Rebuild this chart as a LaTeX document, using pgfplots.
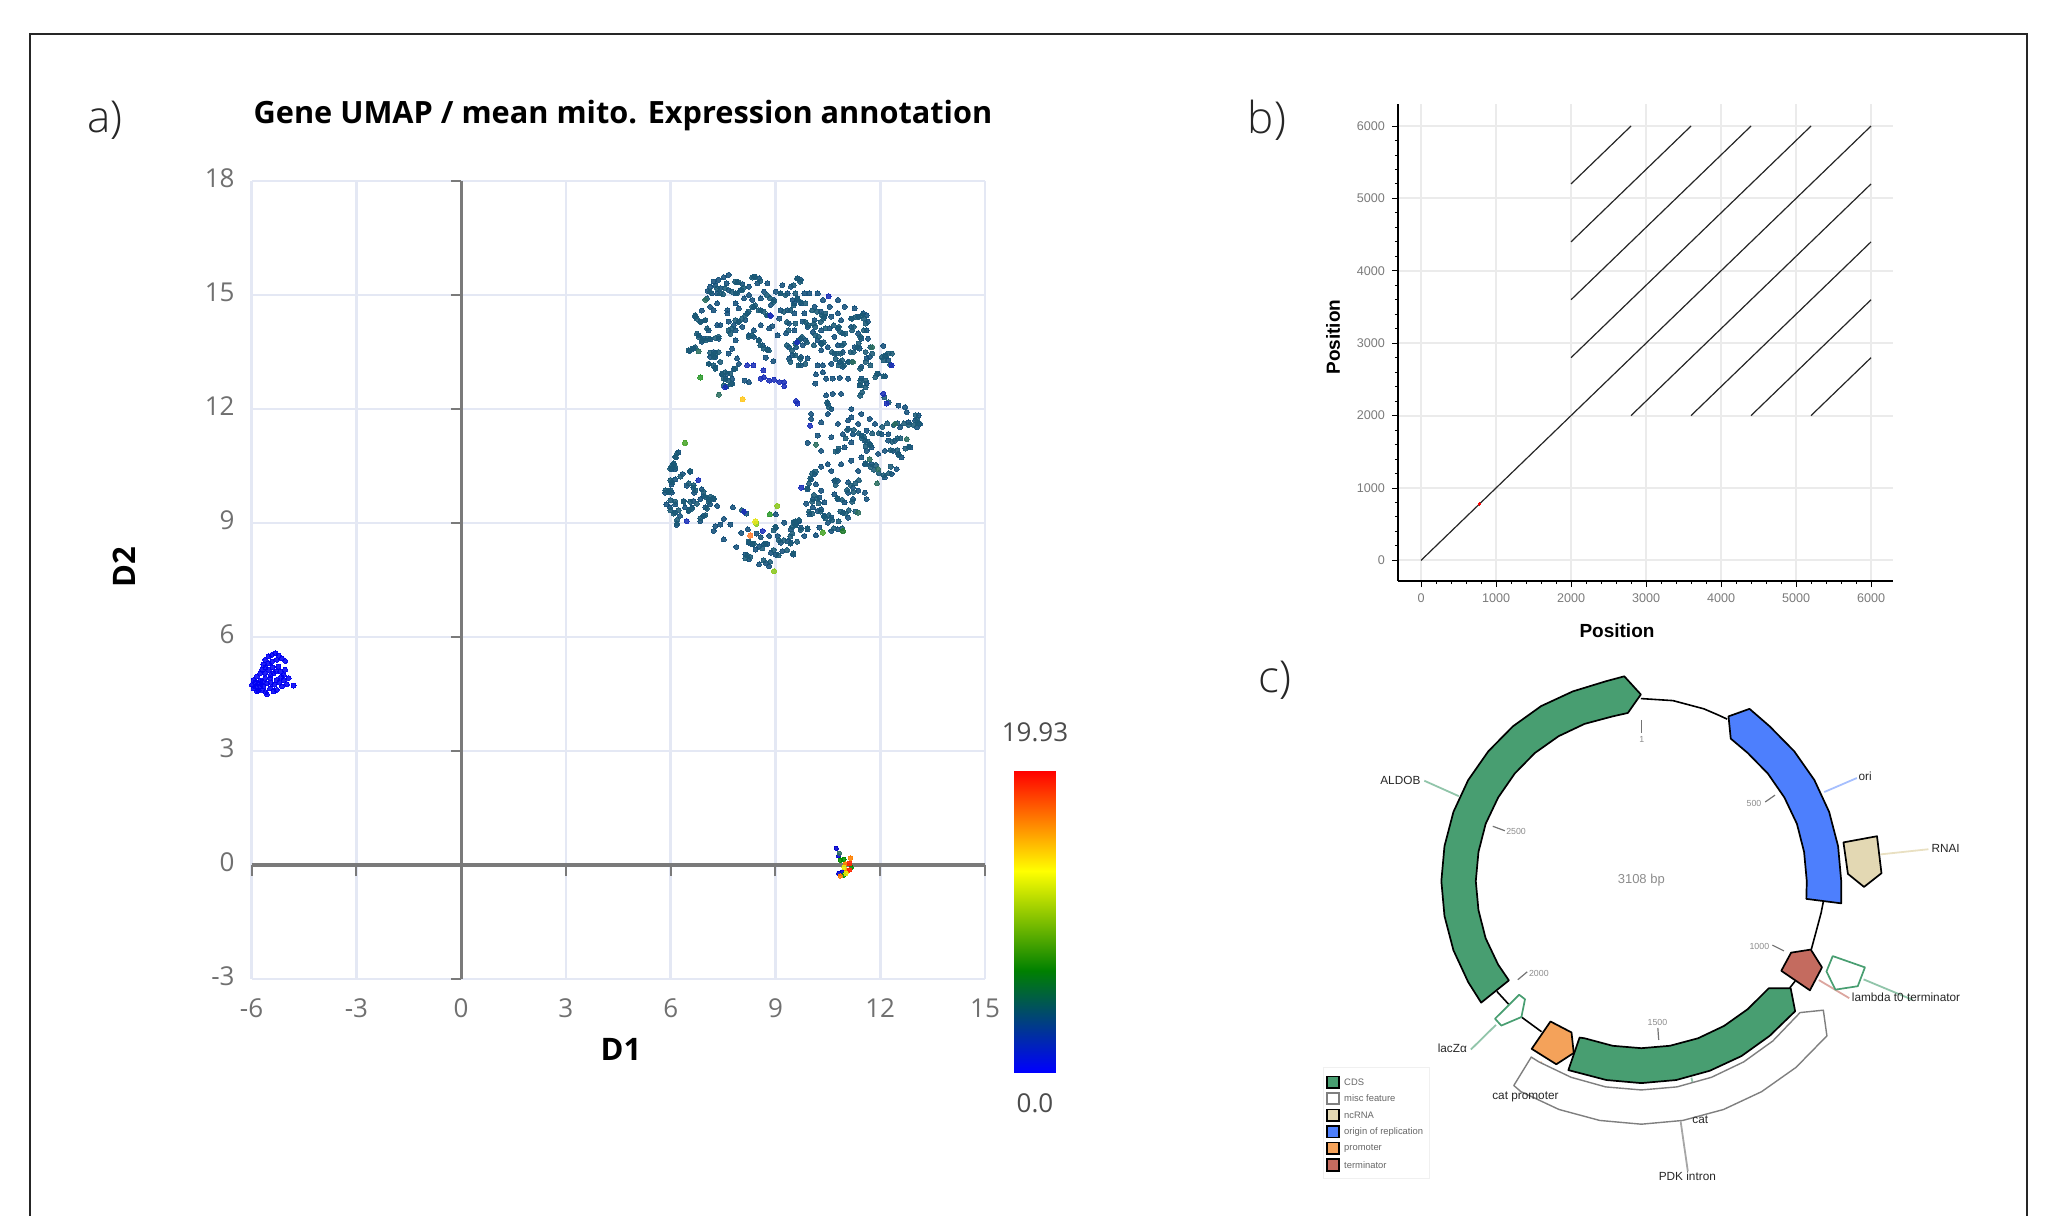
\documentclass[border=0pt]{standalone}
\usepackage{fontspec}
\usepackage{pgfplots}
\pgfplotsset{compat=1.18}
\setmainfont{Open Sans}
\newfontfamily\lib{Liberation Sans}
\newfontfamily\lgt{Open Sans Light}
\definecolor{gridA}{HTML}{E4E8F4}
\definecolor{zeroA}{HTML}{7A7A7A}
\definecolor{tickA}{HTML}{707070}
\definecolor{dotmain}{HTML}{14507A}
\definecolor{dotmix}{HTML}{1B5A76}
\definecolor{dotnavy}{HTML}{1A2FB8}
\definecolor{dotteal}{HTML}{2B6E60}
\definecolor{hgreen}{RGB}{46,154,46}
\definecolor{hamber}{RGB}{255,200,32}
\definecolor{hgrass}{RGB}{74,165,42}
\definecolor{hlime}{RGB}{140,200,32}
\definecolor{hyellow}{RGB}{230,230,30}
\definecolor{horange}{RGB}{255,128,48}
\definecolor{hdark}{RGB}{31,122,42}
\definecolor{cds}{HTML}{489E71}
\definecolor{ncr}{HTML}{E3D8B3}
\definecolor{ori}{HTML}{4D7FFD}
\definecolor{prm}{HTML}{F4A25A}
\definecolor{trm}{HTML}{C46B5F}
\definecolor{misc}{HTML}{7F7F7F}
\pgfplotsset{
  dot/.style n args={2}{only marks,mark=*,mark size=#2,mark options={draw=#1,fill=#1,line width=0pt,opacity=0.88}},
}
\begin{document}
\begin{tikzpicture}
\path[use as bounding box] (0,0) rectangle (1026pt,-608pt);
\begin{scope}[x=0.5pt,y=-0.5pt]
\draw[line width=0.7pt,color=black!85] (30,1216)--(30,34)--(2027,34)--(2027,1216);
\node[font=\lgt\fontsize{22}{24}\selectfont,color=black!85] at (105,120) {a)};
\node[font=\lgt\fontsize{22}{24}\selectfont,color=black!85] at (1267,120) {b)};
\node[font=\lgt\fontsize{22}{24}\selectfont,color=black!85] at (1275,680) {c)};
\node[font=\fontsize{15.35}{17}\selectfont\bfseries] at (623,116) {Gene UMAP / mean mito. Expression annotation};
\node[font=\fontsize{15.5}{17}\selectfont\bfseries] at (621,1049) {D1};
\node[font=\fontsize{15.5}{17}\selectfont\bfseries,rotate=90] at (124,567) {D2};
\node[font=\fontsize{13}{15}\selectfont,color=black!70] at (1035,732) {19.93};
\node[font=\fontsize{13}{15}\selectfont,color=black!70] at (1035,1103) {0.0};
\node[font=\lib\fontsize{9.5}{11}\selectfont\bfseries] at (1617,631) {Position};
\node[font=\lib\fontsize{9.5}{11}\selectfont\bfseries,rotate=90] at (1333,337) {Position};
\end{scope}

% ---------- panel a
\begin{axis}[
  at={(125.8pt,-489.5pt)},anchor=south west,scale only axis,width=366.7pt,height=399pt,
  xmin=-6,xmax=15,ymin=-3,ymax=18,clip=false,
  xtick={-6,-3,0,3,6,9,12,15},ytick={-3,0,3,6,9,12,15,18},
  grid=major,major grid style={color=gridA,line width=1.3pt},
  axis line style={draw=none},tick style={draw=none},
  /pgf/number format/assume math mode=true,
  ticklabel style={font=\fontsize{13}{15}\selectfont,color=tickA},
  xticklabel style={yshift=-6.5pt},
  yticklabel style={xshift=-5pt,yshift=1.5pt},
  unbounded coords=jump,
]
\addplot[color=zeroA,line width=1.6pt] coordinates {(-6,0)(15,0)};
\addplot[color=zeroA,line width=1.6pt] coordinates {(0,18)(0,-3)};
\addplot[color=zeroA,line width=1pt] coordinates {(-6,0)(-6,-0.28)(-6,nan)(-3,0)(-3,-0.28)(-3,nan)(3,0)(3,-0.28)(3,nan)(6,0)(6,-0.28)(6,nan)(9,0)(9,-0.28)(9,nan)(12,0)(12,-0.28)(12,nan)(15,0)(15,-0.28)};
\addplot[color=zeroA,line width=1pt] coordinates {(0,18)(-0.3,18)(0,nan)(0,15)(-0.3,15)(0,nan)(0,12)(-0.3,12)(0,nan)(0,9)(-0.3,9)(0,nan)(0,6)(-0.3,6)(0,nan)(0,3)(-0.3,3)(0,nan)(0,-3)(-0.3,-3)};
% main cluster
\addplot[dot={dotmain}{1.25pt}] coordinates {
(7.66,15.53)(7.52,15.47)(7.37,15.40)(7.23,15.35)(7.13,15.22)(7.06,15.11)(7.28,15.26)(7.42,15.18)(7.33,15.04)(7.18,15.04)
(7.90,15.33)(8.05,15.29)(8.38,15.48)(8.53,15.44)(8.24,15.22)(8.00,15.13)(8.24,15.00)(8.48,15.31)(8.77,15.31)(8.67,15.09)
(8.58,14.91)(8.34,14.87)(8.10,14.91)(7.86,15.04)(7.66,15.13)(7.60,15.31)(7.13,14.69)(7.33,14.78)(6.89,14.59)(6.70,14.43)
(6.85,14.30)(6.99,14.34)(7.09,14.07)(6.80,13.94)(6.94,13.85)(7.13,13.83)(7.37,13.85)(6.89,13.77)(6.65,13.59)(6.54,13.53)
(7.23,14.60)(7.62,14.60)(7.86,14.78)(7.95,14.65)(8.19,14.52)(8.38,14.69)(8.58,14.60)(8.77,14.47)(8.14,14.34)(7.95,14.30)
(7.81,14.21)(7.62,14.52)(7.66,14.30)(7.42,14.21)(7.33,14.21)(7.86,14.07)(8.05,14.16)(8.38,14.07)(8.58,14.21)(8.82,14.12)
(8.91,14.18)(8.24,13.94)(8.38,13.90)(8.53,13.81)(8.63,13.68)(8.77,13.57)(7.86,13.81)(7.76,13.59)(7.66,13.46)(7.23,13.50)
(7.13,13.37)(7.28,13.37)(7.09,13.19)(7.28,13.09)(7.81,13.06)(7.95,13.19)(7.90,13.33)(8.72,13.35)(8.94,13.26)(7.62,12.93)
(7.47,12.91)(7.57,12.80)(7.76,12.80)(7.60,12.59)(7.76,12.67)(8.12,12.75)(8.24,12.71)
(9.20,15.26)(9.44,15.22)(9.63,15.44)(9.73,15.40)(9.01,15.09)(9.15,15.04)(9.35,15.04)(9.49,14.87)(9.63,14.91)(9.83,15.04)
(9.97,15.04)(10.21,15.04)(10.36,14.87)(10.79,14.87)(9.73,14.78)(9.54,14.78)(8.96,14.87)(8.87,14.74)(9.15,14.60)(9.35,14.60)
(9.54,14.52)(9.83,14.52)(10.12,14.69)(10.31,14.56)(10.55,14.69)(10.79,14.52)(10.98,14.69)(11.27,14.65)(11.51,14.52)(11.61,14.47)
(11.37,14.43)(11.17,14.38)(10.88,14.34)(10.60,14.43)(10.40,14.43)(10.12,14.34)(9.92,14.16)(9.78,14.30)(9.39,14.25)(9.11,14.38)
(9.06,13.94)(9.30,13.99)(9.54,14.07)(9.73,13.85)(9.87,13.81)(10.07,14.03)(10.31,14.07)(10.55,14.12)(10.79,14.12)(10.69,13.90)
(10.93,13.99)(11.17,14.16)(11.37,13.99)(11.65,14.30)(11.61,14.07)(11.46,13.85)(11.27,13.63)(11.41,13.59)(11.65,13.85)(12.09,13.66)
(10.31,13.72)(10.50,13.63)(10.21,13.81)(10.79,13.68)(10.93,13.50)(10.69,13.46)(10.31,13.55)(9.78,13.68)(9.59,13.63)(9.39,13.63)
(9.49,13.41)(9.73,13.37)(9.92,13.33)(9.39,13.33)(9.73,13.15)(10.21,13.15)(10.36,13.15)(10.60,13.19)(10.84,13.24)(11.08,13.24)
(10.93,13.11)(11.46,13.11)(11.61,13.33)(11.70,13.37)(12.14,13.39)(12.23,13.28)(11.94,12.93)(12.14,12.86)(10.36,12.97)(10.16,12.91)
(10.45,12.80)(10.64,12.80)(10.84,12.82)(11.08,12.80)(11.46,12.80)(11.41,12.62)(11.61,12.67)(10.14,12.67)
(12.52,12.09)(12.71,12.05)(12.76,11.92)(13.10,11.83)(13.00,11.70)(13.14,11.61)(13.05,11.52)(12.81,11.65)(12.57,11.52)(12.23,11.34)
(12.04,11.34)(11.85,11.61)(11.70,11.74)(11.46,11.87)(11.17,12.00)(10.88,12.40)(10.64,12.40)(10.45,12.36)(10.50,12.14)(10.60,12.00)
(11.17,11.78)(11.08,11.70)(11.37,11.61)(11.61,11.43)(11.46,11.30)(11.22,11.34)(11.08,11.48)(10.93,11.34)(10.79,11.61)(10.50,11.87)
(10.31,11.65)(10.02,11.87)(10.02,11.74)(10.21,11.30)(9.92,11.11)(10.60,11.26)(10.31,10.90)(10.79,10.90)(10.98,10.99)(11.17,11.12)
(11.56,11.17)(11.70,11.08)(11.75,10.99)(11.61,10.90)(11.46,10.73)(11.94,10.82)(12.13,10.90)(12.37,10.90)(12.52,10.82)(12.86,10.99)
(12.42,11.17)(12.23,11.17)(12.61,10.73)(12.47,10.42)(12.33,10.29)(12.13,10.20)(11.75,10.55)(11.56,10.55)(11.37,10.37)(11.17,10.64)
(10.88,10.55)(10.50,10.55)(10.31,10.48)(10.60,10.37)(10.79,10.11)
(10.12,10.29)(10.02,10.15)(10.16,10.02)(9.92,9.89)(10.31,9.85)(10.69,10.11)(11.08,10.07)(11.22,9.93)(11.37,9.85)(11.08,9.80)
(11.56,9.80)(11.61,9.63)(10.69,9.76)(10.40,9.54)(10.79,9.63)(10.26,9.67)(10.07,9.63)(9.88,9.51)(10.98,9.54)(11.22,9.63)
(10.07,9.41)(9.97,9.23)(10.21,9.32)(10.40,9.19)(10.60,9.14)(10.93,9.27)(11.08,9.14)(10.31,9.36)(10.50,9.01)(10.26,8.88)
(10.60,8.79)(10.79,8.83)(10.16,8.68)(9.92,8.83)(9.68,9.05)(9.54,9.01)(9.73,8.88)(9.83,8.66)
(7.78,9.41)(8.17,9.25)(7.52,9.11)(7.28,8.92)(7.42,8.96)(7.23,8.79)(7.71,8.96)(7.52,8.57)(8.02,8.74)(8.21,8.83)
(9.01,9.23)(8.46,8.72)(8.58,8.63)(9.01,8.88)(8.82,8.66)(9.06,8.66)(9.25,9.01)(9.35,8.52)(9.15,8.48)(9.44,8.48)
(9.51,8.17)(9.20,8.26)(9.01,8.17)(8.87,8.22)(8.67,8.44)(8.53,8.39)(8.34,8.44)(8.24,8.48)(8.14,8.17)(8.24,8.04)
(7.88,8.37)(8.53,7.91)(8.72,7.95)(8.82,7.86)(8.43,8.30)(8.77,8.45)(9.59,8.97)(9.44,8.83)
(6.22,10.86)(6.15,10.73)(6.08,10.55)(6.03,10.42)(6.13,10.42)(6.34,10.29)(6.56,10.35)(6.13,10.15)(6.03,10.02)(5.84,9.80)
(5.93,9.85)(6.03,9.80)(6.46,9.98)(6.65,9.93)(6.67,9.80)(6.89,9.89)(6.94,9.71)(7.09,9.63)(7.23,9.63)(7.13,9.49)
(7.33,9.45)(6.99,9.41)(6.85,9.63)(6.65,9.58)(6.61,9.41)(6.51,9.32)(6.85,9.05)(6.94,9.19)(6.17,8.95)(6.27,9.19)
(6.13,9.27)(5.98,9.41)(5.88,9.49)(6.13,9.49)(6.37,9.58)(6.41,9.41)
};
\addplot[dot={dotmix}{1.25pt}] coordinates {
(7.33,15.18)(7.42,15.04)(7.50,15.02)(7.56,15.18)(7.13,15.09)(7.04,14.91)(7.75,15.09)(7.90,15.04)(8.04,15.13)(8.09,15.19)
(8.33,15.46)(8.42,15.48)(8.57,15.37)(7.95,15.33)(7.85,15.35)(7.85,14.34)(7.95,14.29)(8.04,14.38)(8.14,14.47)(8.23,14.56)
(8.33,14.69)(8.42,14.73)(8.52,14.60)(8.66,14.56)(8.76,14.47)(7.75,14.12)(7.66,14.07)(7.71,13.98)(8.23,13.90)(8.33,13.94)
(8.52,13.81)(8.57,13.68)(8.66,13.59)(8.81,13.54)(6.75,13.98)(6.80,13.90)(6.90,13.81)(6.99,13.81)(7.09,13.85)(7.28,13.87)
(7.37,13.90)(6.85,14.29)(6.75,14.38)(6.70,14.47)(6.99,14.34)(7.04,14.12)(6.51,13.54)(6.61,13.59)(6.70,13.63)(7.13,13.48)
(7.23,13.37)(7.28,13.46)(7.37,13.50)(7.09,13.19)(7.23,13.15)(7.28,13.06)(7.42,13.24)(7.47,12.93)(7.56,12.97)(7.71,12.93)
(7.85,13.06)(7.52,12.80)(7.66,12.75)(7.52,12.62)(7.75,12.66)(9.52,15.26)(9.62,15.44)(9.71,15.35)(9.57,15.04)(9.62,14.91)
(9.71,14.82)(9.52,14.73)(9.86,14.78)(9.43,14.60)(9.24,14.56)(9.33,14.29)(9.57,14.25)(9.86,14.29)(9.95,14.20)(9.38,14.07)
(9.66,13.81)(9.76,13.90)(9.90,13.76)(9.57,13.72)(9.33,13.68)(9.47,13.54)(9.57,13.41)(9.71,13.32)(9.86,13.19)(9.66,13.15)
(9.43,13.24)(8.76,15.00)(8.85,14.91)(8.95,14.82)(9.14,15.04)(9.28,15.00)
(10.33,14.47)(10.43,14.51)(10.38,14.38)(10.29,14.29)(10.14,14.16)(10.10,14.25)(10.05,14.60)(10.19,14.56)(10.14,13.94)(10.24,13.90)
(10.43,14.12)(10.67,14.20)(10.81,14.16)(10.86,14.03)(11.00,13.98)(11.19,14.07)(11.24,14.16)(11.29,14.42)(11.38,14.42)(11.48,14.47)
(11.53,14.38)(11.19,14.38)(11.58,14.25)(11.53,14.07)(10.96,13.72)(10.91,13.68)(10.38,13.76)(10.33,13.72)(10.10,13.68)(10.62,13.50)
(10.76,13.46)(10.86,13.46)(10.72,13.32)(10.91,13.28)(10.81,13.15)(10.96,13.15)(11.10,13.24)(11.19,13.24)(11.43,13.90)(11.38,13.72)
(11.34,13.63)(11.24,13.50)(11.15,13.50)(11.72,13.63)(11.58,13.50)(11.77,13.46)(11.58,13.24)(11.43,13.06)(11.72,13.15)(12.05,13.37)
(12.15,13.41)(12.24,13.46)(12.34,13.46)(12.10,13.28)(12.29,13.16)(11.91,12.93)(11.86,12.84)(12.10,12.86)(11.43,12.75)(11.58,12.75)
(11.43,12.62)(11.58,12.57)(11.48,12.44)(11.43,12.35)(12.12,12.31)(12.24,12.18)(10.48,12.18)(10.53,12.05)
(13.01,11.84)(13.06,11.71)(13.11,11.62)(12.96,11.58)(12.82,11.58)(12.68,11.62)(12.49,11.62)(12.39,11.58)(12.20,11.62)(12.06,11.53)
(11.96,11.36)(11.77,11.36)(11.53,11.27)(11.48,11.23)(11.63,11.14)(11.58,11.01)(11.72,11.05)(11.39,11.36)(11.24,11.45)(11.05,11.45)
(10.81,10.96)(10.72,10.88)(11.01,11.23)(12.82,11.01)(12.72,10.96)(12.49,10.92)(12.53,10.79)(12.30,10.92)(12.30,10.48)(12.25,10.31)
(12.10,10.26)(11.96,10.31)(11.82,10.40)(11.72,10.48)(11.58,10.57)(11.87,10.53)(12.49,11.23)(12.58,11.23)(12.34,11.14)(10.05,10.31)
(10.15,10.35)(10.00,10.18)(9.96,10.04)(9.91,9.91)(10.10,9.74)(10.19,9.65)(10.05,9.56)(10.24,9.52)(10.29,9.30)(10.39,9.17)
(9.96,9.30)(10.05,9.25)(10.43,9.12)(10.53,9.21)(10.62,9.08)(10.67,8.86)(10.81,9.04)(10.91,8.86)(10.86,9.30)(11.01,9.25)
(11.10,9.34)(11.29,9.30)(11.20,9.56)(11.05,9.87)(11.15,10.00)(11.24,9.82)(11.39,10.13)(11.29,10.04)(10.72,10.13)(10.72,10.00)
(10.77,9.65)(10.91,9.61)(9.57,9.04)(9.67,9.08)(9.48,8.90)(9.72,8.82)(9.91,8.86)(9.43,8.64)(9.51,8.20)(9.62,8.51)
(6.18,10.83)(6.13,10.74)(6.04,10.52)(6.13,10.48)(5.99,10.43)(6.09,10.57)(6.56,10.37)(6.28,10.22)(5.99,10.13)(6.04,10.08)
(6.52,10.04)(6.66,10.00)(5.85,9.86)(5.94,9.82)(5.99,9.86)(6.71,9.86)(6.94,9.82)(6.99,9.69)(7.14,9.69)(7.23,9.65)
(7.09,9.56)(5.99,9.60)(6.13,9.56)(6.37,9.56)(6.56,9.56)(6.75,9.51)(5.99,9.34)(6.09,9.25)(6.23,9.34)(6.52,9.34)
(6.61,9.38)(6.18,9.08)(6.18,8.99)(6.85,9.12)(6.99,9.21)(7.04,9.38)(8.04,9.34)(8.14,8.07)(8.19,8.15)(8.28,8.11)
(8.23,8.51)(8.38,8.46)(8.62,8.33)(8.71,8.46)(9.00,8.90)(8.95,8.81)(9.09,8.55)(9.24,8.55)(9.43,8.46)(9.33,8.29)
(9.09,8.15)(8.85,7.98)(8.66,8.02)(9.52,9.03)(9.57,8.94)(9.48,8.72)(8.95,8.29)
};
\addplot[dot={dotnavy}{1.25pt}] coordinates {
(8.19,13.15)(8.37,13.15)(8.65,13.02)(8.67,12.84)(8.58,12.80)(8.82,12.75)(8.96,12.77)(9.11,12.71)(9.25,12.71)(9.25,12.60)
(9.59,12.21)(9.63,12.14)(9.74,9.93)(6.79,10.13)(8.10,9.30)(8.63,8.79)(6.46,9.05)(8.87,14.45)(10.52,14.97)(9.99,11.56)
(12.09,12.40)(12.18,12.14)(12.33,13.15)(8.85,14.47)(7.56,12.57)(9.62,13.76)
};
\addplot[dot={dotteal}{1.25pt}] coordinates {
(6.99,14.87)(6.80,13.52)(7.38,12.38)(11.91,10.04)(12.42,11.61)(12.76,11.21)(11.70,10.68)(11.94,10.42)(11.77,13.63)(10.16,11.06)(11.37,9.27)(11.22,13.24)
};
% highlighted genes
\addplot[dot={hgreen}{1.3pt}] coordinates {(6.85,12.83)(8.84,9.23)};
\addplot[dot={hamber}{1.3pt}] coordinates {(8.06,12.26)};
\addplot[dot={hgrass}{1.3pt}] coordinates {(6.41,11.11)(10.36,8.75)};
\addplot[dot={hlime}{1.3pt}] coordinates {(9.05,9.45)(8.45,8.98)(8.96,7.73)};
\addplot[dot={hyellow}{1.3pt}] coordinates {(8.42,9.04)};
\addplot[dot={horange}{1.3pt}] coordinates {(8.28,8.67)};
\addplot[dot={hdark}{1.3pt}] coordinates {(10.93,8.79)};
% blue cluster
\addplot[dot={blue!95!black}{1.25pt}] coordinates {
(-5.32,5.57)(-5.42,5.53)(-5.51,5.49)(-5.61,5.40)(-5.23,5.51)(-5.13,5.44)(-5.04,5.37)(-5.28,5.40)(-5.42,5.35)(-5.51,5.31)
(-5.66,5.27)(-5.70,5.14)(-5.75,5.05)(-5.85,4.96)(-5.94,4.87)(-5.99,4.74)(-5.94,4.65)(-5.85,4.57)(-5.70,4.61)(-5.56,4.49)
(-5.47,4.65)(-5.37,4.57)(-5.28,4.61)(-5.13,4.70)(-4.99,4.76)(-4.80,4.72)(-4.94,4.92)(-5.08,4.87)(-5.28,4.87)(-5.47,4.92)
(-5.61,4.92)(-5.70,4.83)(-5.80,4.78)(-5.56,4.78)(-5.37,5.05)(-5.18,5.09)(-5.04,5.14)(-5.23,5.22)(-5.51,5.14)(-5.61,5.05)
(-5.08,5.00)(-5.89,4.70)(-5.75,4.70)(-5.66,4.70)(-5.40,5.20)(-5.30,5.10)(-5.60,5.20)(-5.15,4.95)(-5.45,5.00)(-5.75,4.85)
(-5.35,4.75)(-5.20,4.80)(-5.90,4.80)(-5.80,4.60)(-5.60,4.55)(-5.45,4.80)
};
% small cluster
\addplot[dot={blue!80!black}{1.1pt}] coordinates {(10.74,0.44)(10.81,0.24)(10.81,-0.22)(10.91,-0.18)};
\addplot[dot={dotteal}{1.1pt}] coordinates {(10.83,0.31)};
\addplot[dot={green!55!black}{1.1pt}] coordinates {(10.86,0.13)(10.96,0.15)(11.17,-0.06)(10.96,-0.26)};
\addplot[dot={orange}{1.1pt}] coordinates {(11.15,0.18)(11.0,0.03)(11.05,-0.15)(10.86,-0.29)};
\addplot[dot={red!85!yellow}{1.1pt}] coordinates {(11.12,0.04)(11.12,-0.13)};
\addplot[dot={yellow!90!green}{1.1pt}] coordinates {(10.96,-0.06)(11.02,-0.22)};
\end{axis}

% ---------- colour bar
\begin{axis}[
  at={(507pt,-536pt)},anchor=south west,scale only axis,width=21pt,height=150.5pt,
  hide axis,xmin=0,xmax=1,ymin=0,ymax=1,view={0}{90},
  colormap={umap}{rgb255(0cm)=(0,0,255); rgb255(0.337cm)=(0,128,0); rgb255(0.668cm)=(255,255,0); rgb255(1cm)=(255,0,0)},
  point meta min=0,point meta max=1,
]
\addplot3[surf,shader=interp,point meta=z,mesh/rows=2] coordinates {(0,0,0)(1,0,0)(0,1,1)(1,1,1)};
\end{axis}

% ---------- panel b
\begin{axis}[
  at={(699pt,-290.5pt)},anchor=south west,scale only axis,width=247.5pt,height=238.6pt,
  xmin=-307,xmax=6293,ymin=-285,ymax=6307,
  axis lines*=left,axis line style={line width=0.6pt,black,-},
  xtick={0,1000,2000,3000,4000,5000,6000},ytick={0,1000,2000,3000,4000,5000,6000},
  minor tick num=4,tick align=outside,
  major tick length=3pt,minor tick length=1.6pt,
  tick style={black,line width=0.45pt},
  grid=major,major grid style={color=black!8,line width=1pt},
  /pgf/number format/assume math mode=true,
  /pgf/number format/1000 sep={},
  ticklabel style={font=\lib\fontsize{6.3}{8}\selectfont,color=black!52},
  scaled ticks=false,
]
\addplot[black!85,line width=0.6pt] coordinates {(0,0)(6000,6000)};
\addplot[black!85,line width=0.6pt] coordinates {(2000,5200)(2800,6000)};
\addplot[black!85,line width=0.6pt] coordinates {(2000,4400)(3600,6000)};
\addplot[black!85,line width=0.6pt] coordinates {(2000,3600)(4400,6000)};
\addplot[black!85,line width=0.6pt] coordinates {(2000,2800)(5200,6000)};
\addplot[black!85,line width=0.6pt] coordinates {(2800,2000)(6000,5200)};
\addplot[black!85,line width=0.6pt] coordinates {(3600,2000)(6000,4400)};
\addplot[black!85,line width=0.6pt] coordinates {(4400,2000)(6000,3600)};
\addplot[black!85,line width=0.6pt] coordinates {(5200,2000)(6000,2800)};
\addplot[dot={red}{0.7pt}] coordinates {(780,780)};
\end{axis}

% ---------- panel c (plasmid map; coordinates)
\begin{axis}[
  at={(650pt,-331.3pt)},anchor=north west,scale only axis,width=350pt,height=270pt,
  xmin=0,xmax=1565,ymin=0,ymax=1577,y dir=reverse,hide axis,clip=false,
]
% backbone
\addplot[black,line width=0.8pt] coordinates {(762,105)(834,111)(903,135)(935,153)(955,165)};
\addplot[black,line width=0.8pt] coordinates {(1170,698)(1165,731)(1155,780)(1143,838)};
\addplot[black,line width=0.8pt] coordinates {(1107,930)(1095,950)};
\addplot[black,line width=0.8pt] coordinates {(440,960)(468,1000)};
\addplot[black,line width=0.8pt] coordinates {(495,1035)(540,1078)};
% leaders
\addplot[cds!60,line width=0.9pt] coordinates {(278,345)(355,390)};
\addplot[ori!50,line width=0.9pt] coordinates {(1172,378)(1245,337)};
\addplot[ncr!80,line width=0.9pt] coordinates {(1298,560)(1405,545)};
\addplot[cds!60,line width=0.9pt] coordinates {(1260,925)(1370,985)};
\addplot[trm!60,line width=0.9pt] coordinates {(1160,927)(1228,980)};
\addplot[cds!60,line width=0.9pt] coordinates {(875,1212)(895,1320)};
\addplot[prm!60,line width=0.9pt] coordinates {(540,1165)(503,1255)};
\addplot[black!35,line width=0.9pt] coordinates {(851,1340)(867,1485)};
\addplot[cds!60,line width=0.9pt] coordinates {(438,1058)(382,1130)};
% PDK intron
\addplot[fill=white,draw=misc,line width=0.7pt,line join=round] coordinates {
(1118,1022)(1170,1015)(1178,1090)(1109,1182)(1032,1253)(947,1305)(856,1337)(763,1348)(670,1337)(579,1305)(494,1253)(478,1235)
(517,1152)(534,1166)(606,1211)(683,1239)(763,1248)(843,1239)(920,1211)(992,1166)(1057,1105)} -- cycle;
% ALDOB
\addplot[fill=cds,draw=black,line width=0.85pt,line join=round] coordinates {
(405,993)(376,933)(343,840)(323,740)(316,638)(323,536)(343,436)(376,343)(421,259)(476,186)(539,127)(610,84)(685,54)(725,40)
(762,93)(733,147)(699,157)(636,179)(578,215)(525,264)(480,324)(443,394)(415,471)(399,553)(393,638)(399,723)(415,805)(443,882)(467,928)} -- cycle;
% cat
\addplot[fill=cds,draw=black,line width=0.85pt,line join=round] coordinates {
(1048,951)(1097,951)(1107,1018)(1050,1090)(987,1149)(916,1192)(841,1219)(763,1228)(685,1219)(600,1190)
(625,1095)(636,1097)(699,1119)(763,1126)(827,1119)(890,1097)(948,1061)(1001,1012)} -- cycle;
% ori
\addplot[fill=ori,draw=black,line width=0.85pt,line join=round] coordinates {
(958,157)(1005,135)(1050,186)(1105,259)(1150,343)(1183,436)(1203,536)(1210,638)(1210,703)
(1132,690)(1133,638)(1127,553)(1111,471)(1083,394)(1046,324)(1001,264)(963,222)} -- cycle;
% RNAI
\addplot[fill=ncr,draw=black,line width=0.85pt,line join=round] coordinates {(1215,525)(1290,507)(1300,615)(1261,655)(1225,617)} -- cycle;
% lambda t0 terminator
\addplot[fill=trm,draw=black,line width=0.85pt,line join=round] coordinates {(1098,847)(1142,838)(1167,890)(1140,957)(1076,900)} -- cycle;
% open feature
\addplot[fill=white,draw=cds,line width=0.85pt,line join=round] coordinates {(1191,857)(1263,890)(1247,945)(1197,955)(1177,902)} -- cycle;
% lacZ alpha
\addplot[fill=white,draw=cds,line width=0.85pt,line join=round] coordinates {(490,970)(503,983)(495,1035)(450,1060)(436,1040)} -- cycle;
% cat promoter
\addplot[fill=prm,draw=black,line width=0.85pt,line join=round] coordinates {(560,1048)(607,1080)(612,1140)(573,1173)(518,1128)} -- cycle;
% position ticks
\addplot[black!55,line width=0.6pt] coordinates {(764,167)(764,205)};
\addplot[black!55,line width=0.6pt] coordinates {(1040,407)(1062,387)};
\addplot[black!55,line width=0.6pt] coordinates {(1056,825)(1082,842)};
\addplot[black!55,line width=0.6pt] coordinates {(800,1067)(802,1102)};
\addplot[black!55,line width=0.6pt] coordinates {(487,926)(508,903)};
\addplot[black!55,line width=0.6pt] coordinates {(431,478)(458,491)};
% legend
\addplot[draw=black!6,line width=0.5pt] coordinates {(52,1183)(290,1183)(290,1508)(52,1508)} -- cycle;
\addplot[fill=cds,draw=black,line width=0.85pt] coordinates {(60,1209)(87,1209)(87,1243)(60,1243)} -- cycle;
\addplot[fill=white,draw=misc,line width=0.85pt] coordinates {(60,1256)(87,1256)(87,1290)(60,1290)} -- cycle;
\addplot[fill=ncr,draw=black,line width=0.85pt] coordinates {(60,1305)(87,1305)(87,1339)(60,1339)} -- cycle;
\addplot[fill=ori,draw=black,line width=0.85pt] coordinates {(60,1353)(87,1353)(87,1387)(60,1387)} -- cycle;
\addplot[fill=prm,draw=black,line width=0.85pt] coordinates {(60,1401)(87,1401)(87,1435)(60,1435)} -- cycle;
\addplot[fill=trm,draw=black,line width=0.85pt] coordinates {(60,1450)(87,1450)(87,1484)(60,1484)} -- cycle;
\begin{scope}[every node/.style={font=\lib\fontsize{4.7}{6}\selectfont,color=black!60,anchor=west,inner sep=0pt}]
\node at (axis cs:98,1226) {CDS};
\node at (axis cs:98,1273) {misc feature};
\node at (axis cs:98,1322) {ncRNA};
\node at (axis cs:98,1370) {origin of replication};
\node at (axis cs:98,1418) {promoter};
\node at (axis cs:98,1467) {terminator};
\end{scope}
\begin{scope}[every node/.style={font=\lib\fontsize{5.9}{7}\selectfont,color=black!85,inner sep=0pt}]
\node[anchor=east] at (axis cs:270,345) {ALDOB};
\node[anchor=west] at (axis cs:1248,333) {ori};
\node[anchor=west] at (axis cs:1411,543) {RNAI};
\node[anchor=west] at (axis cs:1233,978) {lambda t0 terminator};
\node[anchor=east] at (axis cs:374,1127) {lacZα};
\node at (axis cs:504,1267) {cat promoter};
\node at (axis cs:895,1335) {cat};
\node at (axis cs:866,1499) {PDK intron};
\end{scope}
\begin{scope}[every node/.style={font=\lib\fontsize{4.4}{5}\selectfont,color=black!45,inner sep=0pt}]
\node at (axis cs:764,224) {1};
\node at (axis cs:1015,410) {500};
\node at (axis cs:1027,829) {1000};
\node at (axis cs:799,1050) {1500};
\node at (axis cs:534,908) {2000};
\node at (axis cs:483,494) {2500};
\node[font=\lib\fontsize{6.5}{8}\selectfont] at (axis cs:763,635) {3108 bp};
\end{scope}
\end{axis}
\end{tikzpicture}
\end{document}
